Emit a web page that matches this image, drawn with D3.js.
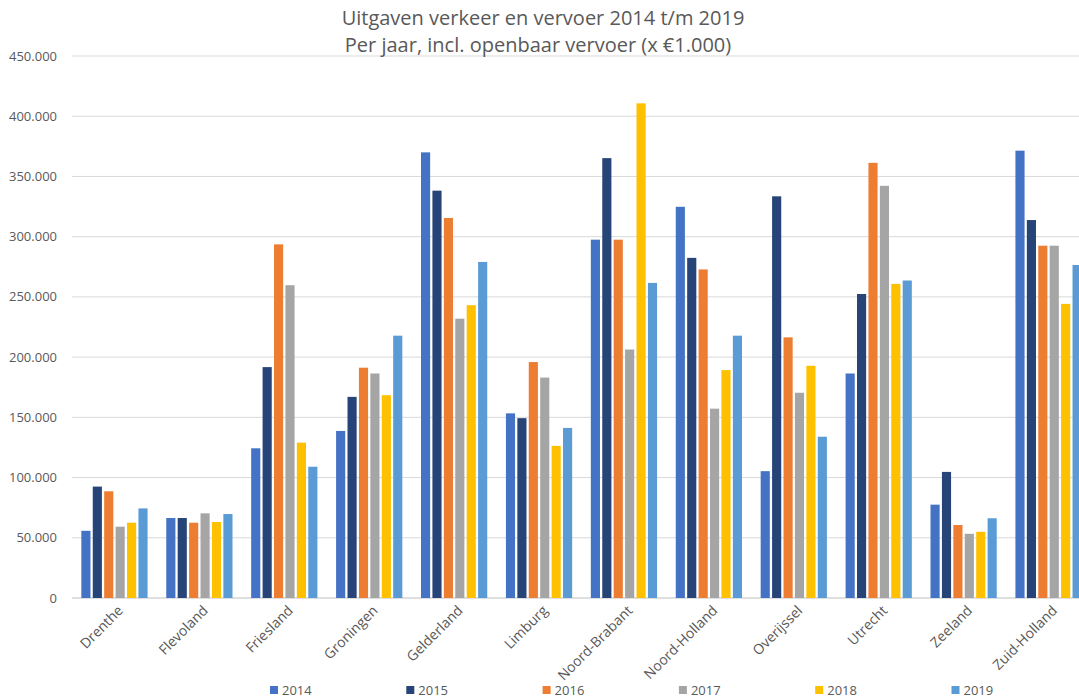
<!DOCTYPE html>
<html>
<head>
<meta charset="utf-8">
<script src="https://cdn.jsdelivr.net/npm/d3@7"></script>
<style>
  body { margin: 0; background: #fff; }
  svg text { font-family: "Open Sans", "Noto Sans", sans-serif; fill: #595959; }
</style>
</head>
<body>
<svg id="chart" width="1079" height="699"></svg>
<script>
// Provinces (categories)
const provinces = ["Drenthe", "Flevoland", "Friesland", "Groningen", "Gelderland", "Limburg",
  "Noord-Brabant", "Noord-Holland", "Overijssel", "Utrecht", "Zeeland", "Zuid-Holland"];

const years = ["2014", "2015", "2016", "2017", "2018", "2019"];

// Expenditure per year, x €1.000
const values2014 = [55800, 66400, 124300, 138700, 370000, 153300, 297500, 324800, 105300, 186400, 77500, 371400];
const values2015 = [92500, 66400, 191700, 167000, 338200, 149300, 365200, 282400, 333500, 252400, 104700, 313800];
const values2016 = [88600, 62500, 293600, 191200, 315500, 195900, 297500, 272800, 216400, 361300, 60600, 292500];
const values2017 = [59200, 70300, 259700, 186400, 231900, 183000, 206300, 157200, 170400, 342200, 53300, 292500];
const values2018 = [62500, 63100, 129000, 168400, 243100, 126300, 410700, 189200, 192800, 260800, 55000, 244200];
const values2019 = [74400, 69700, 109000, 217800, 279000, 141200, 261600, 217800, 133900, 263600, 66200, 276500];

const yTicks = [0, 50000, 100000, 150000, 200000, 250000, 300000, 350000, 400000, 450000];

const colors = ["#4472C4", "#264478", "#ED7D31", "#A5A5A5", "#FFC000", "#5B9BD5"];

const series = [values2014, values2015, values2016, values2017, values2018, values2019];

const nl = d3.formatLocale({ decimal: ",", thousands: ".", grouping: [3], currency: ["€", ""] });
const fmt = nl.format(",d");

const svg = d3.select("#chart");

const x0 = d3.scaleBand()
  .domain(provinces)
  .range([72, 1091])
  .paddingInner(0.22)
  .paddingOuter(0.11);

const x1 = d3.scaleBand()
  .domain(years)
  .range([0, x0.bandwidth()])
  .paddingInner(0.2);

const y = d3.scaleLinear()
  .domain([0, 450000])
  .range([598, 56]);

const color = d3.scaleOrdinal().domain(years).range(colors);

// Gridlines
svg.append("g")
  .selectAll("line")
  .data(yTicks)
  .join("line")
  .attr("x1", 72)
  .attr("x2", 1079)
  .attr("y1", d => y(d))
  .attr("y2", d => y(d))
  .attr("stroke", d => d === 0 ? "#bfbfbf" : "#d9d9d9")
  .attr("stroke-width", 1);

// Y labels
svg.append("g")
  .selectAll("text")
  .data(yTicks)
  .join("text")
  .attr("x", 57)
  .attr("y", d => y(d))
  .attr("dy", "0.35em")
  .attr("text-anchor", "end")
  .style("font-size", "13px")
  .text(d => fmt(d));

// Bars
const groups = svg.append("g")
  .selectAll("g")
  .data(provinces)
  .join("g")
  .attr("transform", d => `translate(${x0(d)},0)`);

groups.selectAll("rect")
  .data((p, i) => years.map((yr, j) => ({ year: yr, value: series[j][i] })))
  .join("rect")
  .attr("x", d => x1(d.year))
  .attr("y", d => y(d.value))
  .attr("width", x1.bandwidth())
  .attr("height", d => y(0) - y(d.value))
  .attr("fill", d => color(d.year));

// X labels
svg.append("g")
  .selectAll("text")
  .data(provinces)
  .join("text")
  .attr("text-anchor", "end")
  .attr("transform", d => `translate(${x0(d) + x0.bandwidth() / 2 + 6},${608}) rotate(-45)`)
  .attr("dy", "0.35em")
  .style("font-size", "14px")
  .text(d => d);

// Title
const title = svg.append("text")
  .attr("x", 540)
  .attr("text-anchor", "middle")
  .style("font-size", "20px");
title.append("tspan").attr("x", 543).attr("y", 25).text("Uitgaven verkeer en vervoer 2014 t/m 2019");
title.append("tspan").attr("x", 538).attr("y", 52).text("Per jaar, incl. openbaar vervoer (x €1.000)");

// Legend
const legend = svg.append("g")
  .selectAll("g")
  .data(years)
  .join("g")
  .attr("transform", (d, i) => `translate(${270 + i * 136.3},686)`);

legend.append("rect")
  .attr("width", 8)
  .attr("height", 8)
  .attr("fill", d => color(d));

legend.append("text")
  .attr("x", 12)
  .attr("y", 4)
  .attr("dy", "0.35em")
  .style("font-size", "13px")
  .text(d => d);
</script>
</body>
</html>
